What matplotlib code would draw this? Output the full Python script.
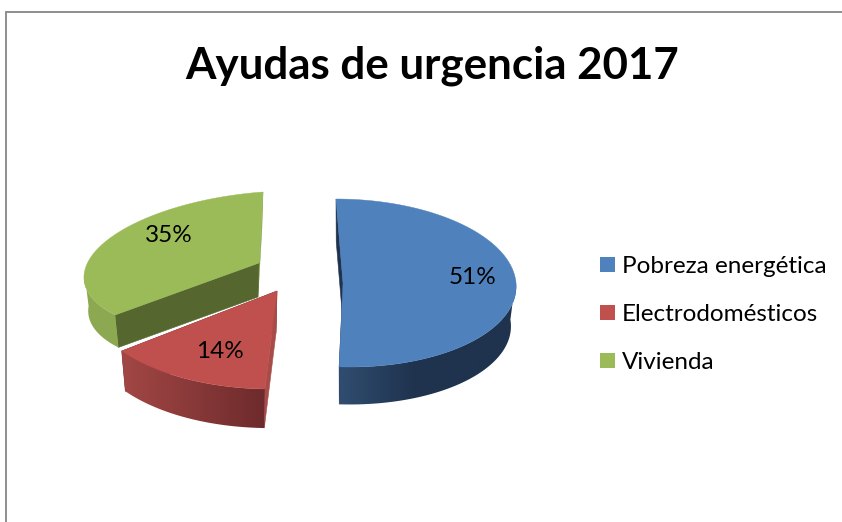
import numpy as np
import matplotlib
matplotlib.use("Agg")
import matplotlib.pyplot as plt
from matplotlib.patches import Polygon, Rectangle
from matplotlib.colors import to_rgb

title = "Ayudas de urgencia 2017"
categories = ["Pobreza energética", "Electrodomésticos", "Vivienda"]
values = [51, 14, 35]
value_labels = ["51%", "14%", "35%"]
colors = ["#4f81bd", "#c0504d", "#9bbb59"]

# Projection of each exploded slice (style only): apex, 2x2 matrix, depth offset
apex = {"Pobreza energética": (343, 283), "Electrodomésticos": (277, 291), "Vivienda": (259, 263)}
matrix = {"Pobreza energética": ((173, -7), (0, 84)),
          "Electrodomésticos": ((192, 0), (3, 98)),
          "Vivienda": ((175, 4), (12.7, 71))}
bottom_apex = {"Pobreza energética": (343, 323), "Electrodomésticos": (276, 333), "Vivienda": (258, 297)}
bottom_scale = 0.97
wall_from = {"Pobreza energética": "#304d70", "Electrodomésticos": "#a24745", "Vivienda": "#8ca951"}
wall_to = {"Pobreza energética": "#1f334e", "Electrodomésticos": "#6e2a2c", "Vivienda": "#8ca951"}
radial_start = {"Pobreza energética": "#1f334e", "Electrodomésticos": "#a84c4a", "Vivienda": "#55662f"}
radial_end = {"Pobreza energética": "#1f334e", "Electrodomésticos": "#6e2a2c", "Vivienda": "#8fab55"}
label_xy = {"Pobreza energética": (473, 277), "Electrodomésticos": (220, 352), "Vivienda": (169, 235)}
draw_order = ["Vivienda", "Pobreza energética", "Electrodomésticos"]

plt.rcParams["font.family"] = ["Lato", "DejaVu Sans"]
fig = plt.figure(figsize=(8.42, 5.22), dpi=100, facecolor="white")
ax = fig.add_axes([0, 0, 1, 1])
ax.axis("off")
ax.add_patch(Rectangle((5.5, 12), 1000, 700, fc="white", ec="#868686", lw=1.3, zorder=0))


def project(angles, origin, m, s=1.0):
    c, n = np.cos(angles), np.sin(angles)
    x = origin[0] + s * (m[0][0] * c + m[0][1] * n)
    y = origin[1] - s * (m[1][0] * c + m[1][1] * n)
    return np.column_stack([x, y])


total = sum(values)
edges = 90 - np.cumsum([0] + values) / total * 360
z = 2
spans = {c: (edges[i], edges[i + 1]) for i, c in enumerate(categories)}
for cat in draw_order:
    i = categories.index(cat)
    a0, a1 = np.radians(spans[cat])
    th = np.linspace(a0, a1, 200)
    top = project(th, apex[cat], matrix[cat])
    bot = project(th, bottom_apex[cat], matrix[cat], bottom_scale)
    # radial cut faces: end first, start over it
    for j, col in ((-1, radial_end[cat]), (0, radial_start[cat])):
        ax.add_patch(Polygon([apex[cat], top[j], bot[j], bottom_apex[cat]],
                             fc=col, ec=col, lw=0.4, zorder=z))
    z += 1
    # outer wall (front-facing part only), shaded through a clipped gradient image
    front = np.sin(th) <= 0.05
    wtop, wbot = top[front], bot[front]
    c0, c1 = np.array(to_rgb(wall_from[cat])), np.array(to_rgb(wall_to[cat]))
    wall = Polygon(np.vstack([wtop, wbot[::-1]]), fc="none", ec="none",
                   transform=ax.transData)
    ax.add_patch(wall)
    xmin, xmax = min(wtop[:, 0].min(), wbot[:, 0].min()), max(wtop[:, 0].max(), wbot[:, 0].max())
    span = 75 if cat == "Pobreza energética" else max(xmax - xmin, 1)
    t = np.clip(np.linspace(0, (xmax - xmin) / span, 256), 0, 1)[None, :, None]
    grad = c0[None, None, :] + (c1 - c0)[None, None, :] * t
    im = ax.imshow(grad, extent=(xmin, xmax, 522, 0), aspect="auto", zorder=z,
                   interpolation="bilinear")
    im.set_clip_path(wall)
    z += 1
    ax.add_patch(Polygon(np.vstack([[apex[cat]], top]), fc=colors[i], ec=colors[i],
                         lw=0.3, zorder=z))
    z += 1

ax.set_xlim(0, 842)
ax.set_ylim(522, 0)

for cat, lab in zip(categories, value_labels):
    ax.text(*label_xy[cat], lab, ha="center", va="center", fontsize=17.5, color="black", zorder=50)

ax.text(432, 78, title, ha="center", va="baseline", fontsize=31.6, fontweight="bold",
        color="black", zorder=50)

handles = [Rectangle((0, 0), 1, 1, fc=c, ec="none") for c in colors]
ax.legend(handles, categories, loc="upper left", bbox_to_anchor=(600 / 842, 1 - 256 / 522),
          frameon=False, fontsize=17.5, borderpad=0, borderaxespad=0, labelspacing=1.11,
          handlelength=0.62, handleheight=0.62, handletextpad=0.29)

fig.savefig("out.png", dpi=100)
